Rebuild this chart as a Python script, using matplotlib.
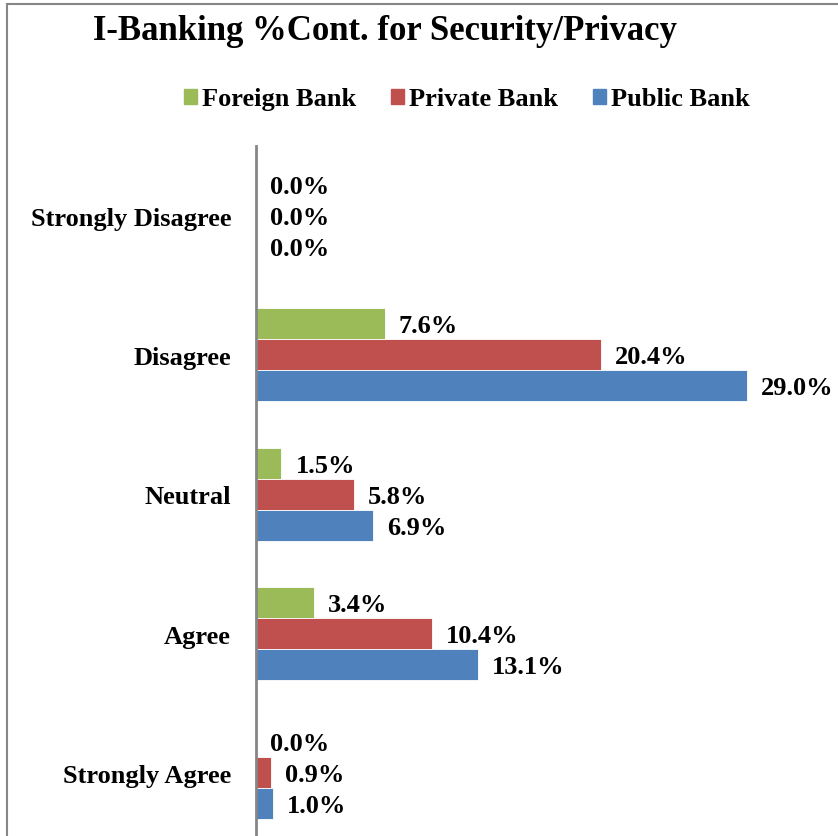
import numpy as np
import matplotlib.pyplot as plt
from matplotlib.patches import Rectangle

plt.rcParams['font.family'] = ['Liberation Serif', 'DejaVu Serif']
plt.rcParams['font.weight'] = 'bold'

categories = ['Strongly Disagree', 'Disagree', 'Neutral', 'Agree', 'Strongly Agree']
foreign = [0.0, 7.6, 1.5, 3.4, 0.0]
private = [0.0, 20.4, 5.8, 10.4, 0.9]
public = [0.0, 29.0, 6.9, 13.1, 1.0]
series_names = ['Foreign Bank', 'Private Bank', 'Public Bank']
colors = ['#9BBB59', '#C0504D', '#4F81BD']

W, H = 838, 837
fig = plt.figure(figsize=(W / 100, H / 100), dpi=100)

# outer chart border (cropped on right and bottom)
fig.patches.append(Rectangle((7 / W, -0.1), 2, (H - 5) / H + 0.1, transform=fig.transFigure,
                             fill=False, edgecolor='#868686', linewidth=1.5))

# axes: left at x=256, top at y=147, category pitch ~139.3 px
pitch = 139.3
top = 147
bottom = top + pitch * 5
ax = fig.add_axes([256 / W, 1 - bottom / H, (W - 256) / W, (bottom - top) / H])
ax.set_xlim(0, (W - 256) / 16.93)
ax.set_ylim(4.5, -0.5)

y = np.arange(len(categories))
h = 0.2225
for vals, off, c in zip([foreign, private, public], [-h, 0, h], colors):
    ax.barh(y + off, vals, height=h, color=c, edgecolor='white', linewidth=0.6)
    for yi, v in zip(y + off, vals):
        ax.annotate(f'{v:.1f}%', (v, yi), xytext=(14, -2), textcoords='offset pixels',
                    ha='left', va='center', fontsize=19, fontweight='bold')

ax.set_yticks(y)
ax.set_yticklabels(categories, fontsize=19, fontweight='bold')
ax.tick_params(axis='y', length=0, pad=18)
ax.set_xticks([])
for s in ['top', 'right', 'bottom']:
    ax.spines[s].set_visible(False)
ax.spines['left'].set_color('#868686')
ax.spines['left'].set_linewidth(2)

fig.text(385 / W, 1 - 32 / H, 'I-Banking %Cont. for Security/Privacy', ha='center', va='center',
         fontsize=25, fontweight='bold')

handles = [Rectangle((0, 0), 1, 1, color=c) for c in colors]
fig.legend(handles, series_names, loc='center', bbox_to_anchor=(467 / W, 1 - 100 / H), ncol=3,
           frameon=False, prop={'weight': 'bold', 'size': 19},
           handlelength=0.5, handleheight=0.5, handletextpad=0.2, columnspacing=1.3)

fig.savefig('out.png', dpi=100)
